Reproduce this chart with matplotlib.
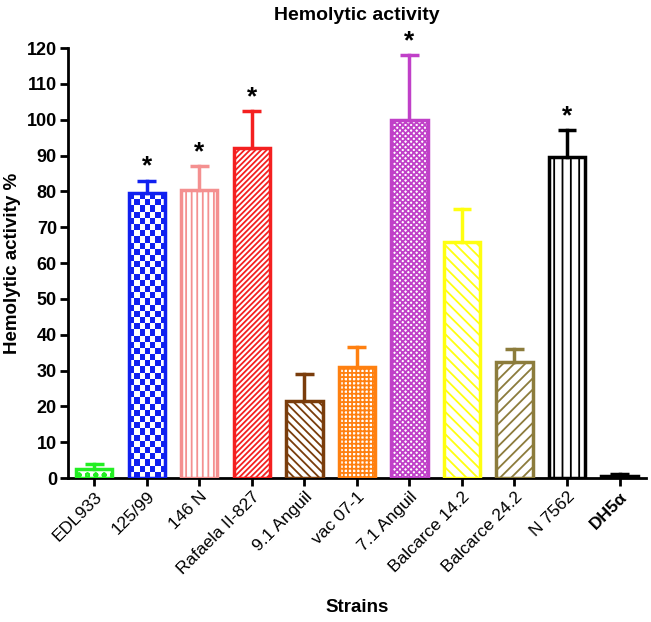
import numpy as np
import matplotlib.pyplot as plt
from matplotlib.colors import ListedColormap, to_rgba

plt.rcParams['font.family'] = ['Liberation Sans', 'DejaVu Sans']
plt.rcParams['hatch.linewidth'] = 1.3

strains = ["EDL933", "125/99", "146 N", "Rafaela II-827", "9.1 Anguil", "vac 07-1",
           "7.1 Anguil", "Balcarce 14.2", "Balcarce 24.2", "N 7562", "DH5\u03b1"]
activity = [2.5, 79.5, 80.5, 92.0, 21.5, 31.0, 100.0, 66.0, 32.5, 89.5, 0.5]
sem = [1.5, 3.5, 6.5, 10.5, 7.5, 5.5, 18.0, 9.0, 3.5, 7.5, 0.5]
significant = [False, True, True, True, False, False, True, False, False, True, False]

colors = ["#22ee22", "#1020f0", "#f49090", "#f42020", "#7a3d0c", "#ff8010",
          "#c040c8", "#ffff10", "#8c7c3c", "#000000", "#000000"]
hatches = ["oo", None, "|||", "//////", "\\\\\\\\", "++++", "xxxxxx", "\\\\\\", "///", "||", None]

fig = plt.figure(figsize=(6.51, 6.22), dpi=100)
ax = fig.add_axes([0.1045, 0.2315, 0.8875, 0.6913])

x = np.arange(len(strains))
width = 0.69
bars = ax.bar(x, activity, width=width, color="white", edgecolor=colors,
              linewidth=2.5, zorder=3)
for bar, c, h in zip(bars, colors, hatches):
    if h:
        bar.set_hatch(h)
    bar._hatch_color = to_rgba(c)

# checkerboard fill for 125/99
b = bars[1]
b.set_facecolor("none")
nx, ny = 7, 46
checker = (np.add.outer(np.arange(ny), np.arange(nx)) % 2).astype(float)
x0, w = b.get_x(), b.get_width()
im = ax.imshow(checker, cmap=ListedColormap(["white", colors[1]]),
               extent=[x0, x0 + w, 0, activity[1]], aspect="auto",
               interpolation="nearest", zorder=2.5, origin="lower")

# upper error bars only
for xi, v, e, c in zip(x, activity, sem, colors):
    ax.plot([xi, xi], [v, v + e], color=c, lw=2.5, zorder=4)
    ax.plot([xi - 0.18, xi + 0.18], [v + e, v + e], color=c, lw=2.5,
            solid_capstyle="butt", zorder=4)

for xi, v, e, s in zip(x, activity, sem, significant):
    if s:
        ax.text(xi, v + e + 0.5, "*", ha="center", va="bottom",
                fontsize=19, fontweight="bold", zorder=5)

ax.set_xlim(-0.5, 10.5)
ax.set_ylim(0, 120)
ax.set_yticks(np.arange(0, 121, 10))
ax.set_xticks(x)
ax.set_xticklabels(strains, rotation=45, ha="right", rotation_mode="anchor",
                   fontsize=12.5)
ax.get_xticklabels()[-1].set_fontweight("bold")
for lab in ax.get_yticklabels():
    lab.set_fontsize(13)
    lab.set_fontweight("bold")
ax.spines["top"].set_visible(False)
ax.spines["right"].set_visible(False)
ax.spines["left"].set_linewidth(2)
ax.spines["bottom"].set_linewidth(2)
ax.tick_params(width=2, length=6, direction="out", pad=2)

ax.set_title("Hemolytic activity", fontsize=14, fontweight="bold", pad=20)
ax.set_ylabel("Hemolytic activity %", fontsize=13.5, fontweight="bold", labelpad=4)
ax.set_xlabel("Strains", fontsize=13.5, fontweight="bold", labelpad=16)

fig.savefig("out.png", dpi=100)
